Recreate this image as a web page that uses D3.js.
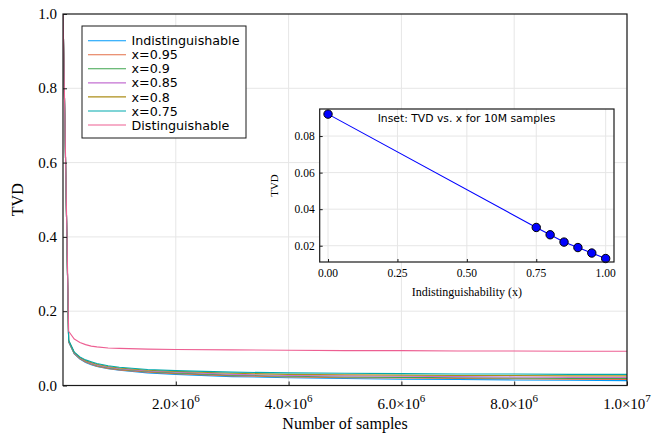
<!DOCTYPE html>
<html>
<head>
<meta charset="utf-8">
<script src="https://cdn.jsdelivr.net/npm/d3@7"></script>
<style>
  html, body { margin: 0; padding: 0; background: #fff; }
  svg { display: block; }
  .serif { font-family: "Liberation Serif", "Times New Roman", serif; fill: #000; }
  .sans { font-family: "DejaVu Sans", sans-serif; fill: #000; }
</style>
</head>
<body>
<svg id="chart" width="655" height="433"></svg>
<script>
// Sample counts at which the TVD was evaluated
const samples = [1e3, 1e5, 2e5, 3e5, 4e5, 5e5, 6e5, 8e5, 1e6, 1.5e6, 2e6, 3e6, 4e6, 5e6, 6e6, 7e6, 8e6, 9e6, 1e7];

const seriesNames = ["Indistinguishable", "x=0.95", "x=0.9", "x=0.85", "x=0.8", "x=0.75", "Distinguishable"];
const seriesColors = ["#009AFA", "#E36F47", "#3EA44E", "#C371D2", "#AC8E18", "#00A9AD", "#ED5F92"];

// TVD per series, one value per entry of `samples`
const tvdIndist = [1.0, 0.117, 0.085, 0.071, 0.062, 0.056, 0.051, 0.045, 0.041, 0.034, 0.030, 0.024, 0.021, 0.019, 0.017, 0.016, 0.015, 0.014, 0.013];
const tvdX095  = [1.0, 0.118, 0.086, 0.072, 0.063, 0.057, 0.052, 0.046, 0.042, 0.036, 0.032, 0.026, 0.023, 0.021, 0.020, 0.019, 0.018, 0.017, 0.016];
const tvdX090  = [1.0, 0.119, 0.087, 0.073, 0.065, 0.059, 0.054, 0.048, 0.044, 0.038, 0.034, 0.028, 0.025, 0.023, 0.022, 0.021, 0.020, 0.019, 0.019];
const tvdX085  = [1.0, 0.120, 0.088, 0.074, 0.066, 0.060, 0.055, 0.049, 0.045, 0.039, 0.036, 0.030, 0.027, 0.026, 0.025, 0.024, 0.023, 0.022, 0.022];
const tvdX080  = [1.0, 0.121, 0.089, 0.075, 0.067, 0.062, 0.057, 0.051, 0.047, 0.041, 0.038, 0.033, 0.030, 0.029, 0.028, 0.027, 0.027, 0.026, 0.026];
const tvdX075  = [1.0, 0.122, 0.090, 0.077, 0.069, 0.064, 0.059, 0.053, 0.049, 0.043, 0.040, 0.036, 0.034, 0.033, 0.032, 0.031, 0.031, 0.030, 0.030];
const tvdDist  = [1.0, 0.146, 0.125, 0.116, 0.110, 0.106, 0.104, 0.101, 0.100, 0.098, 0.097, 0.096, 0.095, 0.094, 0.094, 0.093, 0.093, 0.092, 0.092];

const allSeries = [tvdIndist, tvdX095, tvdX090, tvdX085, tvdX080, tvdX075, tvdDist];

// Indistinguishability of each series (inset x values)
const seriesX = [1.0, 0.95, 0.9, 0.85, 0.8, 0.75, 0.0];

const mainXTicks = [2e6, 4e6, 6e6, 8e6, 1e7];
const mainYTicks = [0.0, 0.2, 0.4, 0.6, 0.8, 1.0];
const insetXTicks = [0.0, 0.25, 0.5, 0.75, 1.0];
const insetYTicks = [0.02, 0.04, 0.06, 0.08];

const svg = d3.select("#chart");
const gridColor = "#e6e6e6";
const frameColor = "#1a1a1a";

// ---------- main panel ----------
const M = { left: 63, right: 627, top: 14, bottom: 385.5 };
const x = d3.scaleLinear().domain([0, 1e7]).range([M.left, M.right]);
const y = d3.scaleLinear().domain([0, 1]).range([M.bottom, M.top]);

const main = svg.append("g");
main.append("rect").attr("x", M.left).attr("y", M.top)
  .attr("width", M.right - M.left).attr("height", M.bottom - M.top).attr("fill", "#fff");

// grid
main.append("g").selectAll("line").data(mainXTicks).join("line")
  .attr("x1", d => x(d)).attr("x2", d => x(d)).attr("y1", M.top).attr("y2", M.bottom)
  .attr("stroke", gridColor).attr("stroke-width", 1);
main.append("g").selectAll("line").data(mainYTicks.filter(d => d > 0 && d < 1)).join("line")
  .attr("x1", M.left).attr("x2", M.right).attr("y1", d => y(d)).attr("y2", d => y(d))
  .attr("stroke", gridColor).attr("stroke-width", 1);

// curves
svg.append("defs").append("clipPath").attr("id", "mainClip")
  .append("rect").attr("x", M.left).attr("y", M.top - 1)
  .attr("width", M.right - M.left).attr("height", M.bottom - M.top + 1);

const line = d3.line().x((d, i) => x(samples[i])).y(d => y(d));
main.append("g").attr("clip-path", "url(#mainClip)")
  .selectAll("path").data(allSeries).join("path")
  .attr("d", d => line(d))
  .attr("fill", "none")
  .attr("stroke", (d, i) => seriesColors[i])
  .attr("stroke-width", 1.1)
  .attr("stroke-linejoin", "round");

// axes (ticks pointing inward)
const xAxis = d3.axisBottom(x).tickValues(mainXTicks).tickSize(-4).tickFormat("");
const yAxis = d3.axisLeft(y).tickValues(mainYTicks).tickSize(-4).tickFormat("");
main.append("g").attr("transform", `translate(0,${M.bottom})`).call(xAxis)
  .call(g => g.select(".domain").remove())
  .call(g => g.selectAll("line").attr("stroke", frameColor));
main.append("g").attr("transform", `translate(${M.left},0)`).call(yAxis)
  .call(g => g.select(".domain").remove())
  .call(g => g.selectAll("line").attr("stroke", frameColor));

main.append("rect").attr("x", M.left).attr("y", M.top)
  .attr("width", M.right - M.left).attr("height", M.bottom - M.top)
  .attr("fill", "none").attr("stroke", frameColor).attr("stroke-width", 1.2);

// tick labels
main.append("g").selectAll("text").data(mainYTicks).join("text")
  .attr("class", "serif").attr("font-size", 15)
  .attr("x", M.left - 6).attr("y", d => y(d) + 5)
  .attr("text-anchor", "end").text(d => d.toFixed(1));

const xl = main.append("g").selectAll("text").data(mainXTicks).join("text")
  .attr("class", "serif").attr("font-size", 15)
  .attr("x", d => x(d)).attr("y", 409).attr("text-anchor", "middle");
xl.each(function (d) {
  const e = Math.floor(Math.log10(d) + 1e-9);
  const m = d / Math.pow(10, e);
  const t = d3.select(this);
  t.append("tspan").text(m.toFixed(1) + "\u00d710");
  t.append("tspan").attr("dy", -7).attr("font-size", 11).text(e);
});

// axis titles
main.append("text").attr("class", "serif").attr("font-size", 16)
  .attr("x", (M.left + M.right) / 2).attr("y", 429).attr("text-anchor", "middle")
  .text("Number of samples");
main.append("text").attr("class", "serif").attr("font-size", 16)
  .attr("transform", `translate(23,${(M.top + M.bottom) / 2}) rotate(-90)`)
  .attr("text-anchor", "middle").text("TVD");

// legend
const L = { x: 82, y: 26, w: 164, h: 112 };
const leg = main.append("g");
leg.append("rect").attr("x", L.x).attr("y", L.y).attr("width", L.w).attr("height", L.h)
  .attr("fill", "#fff").attr("stroke", frameColor).attr("stroke-width", 1);
const rows = leg.selectAll("g").data(seriesNames).join("g")
  .attr("transform", (d, i) => `translate(0,${40.7 + i * 14.05})`);
rows.append("line").attr("x1", 88).attr("x2", 126).attr("y1", 0).attr("y2", 0)
  .attr("stroke", (d, i) => seriesColors[i]).attr("stroke-width", 1.1);
rows.append("text").attr("class", "sans").attr("font-size", 12.7)
  .attr("x", 131.5).attr("y", 4.6).text(d => d);

// ---------- inset: TVD at the largest sample count vs. x ----------
const insetData = seriesX.map((xv, i) => ({ x: xv, tvd: allSeries[i][allSeries[i].length - 1] }))
  .sort((a, b) => a.x - b.x);

const I = { left: 319.7, right: 614, top: 109, bottom: 262 };
const ix = d3.scaleLinear().domain([-0.03, 1.03]).range([I.left, I.right]);
const iy = d3.scaleLinear().domain([0.0111, 0.0948]).range([I.bottom, I.top]);

const inset = svg.append("g");
inset.append("rect").attr("x", I.left).attr("y", I.top)
  .attr("width", I.right - I.left).attr("height", I.bottom - I.top).attr("fill", "#fff");

inset.append("g").selectAll("line").data(insetXTicks).join("line")
  .attr("x1", d => ix(d)).attr("x2", d => ix(d)).attr("y1", I.top).attr("y2", I.bottom)
  .attr("stroke", gridColor);
inset.append("g").selectAll("line").data(insetYTicks).join("line")
  .attr("x1", I.left).attr("x2", I.right).attr("y1", d => iy(d)).attr("y2", d => iy(d))
  .attr("stroke", gridColor);

inset.append("g").attr("transform", `translate(0,${I.bottom})`)
  .call(d3.axisBottom(ix).tickValues(insetXTicks).tickSize(-3).tickFormat(""))
  .call(g => g.select(".domain").remove())
  .call(g => g.selectAll("line").attr("stroke", frameColor));
inset.append("g").attr("transform", `translate(${I.left},0)`)
  .call(d3.axisLeft(iy).tickValues(insetYTicks).tickSize(-3).tickFormat(""))
  .call(g => g.select(".domain").remove())
  .call(g => g.selectAll("line").attr("stroke", frameColor));

inset.append("path").datum(insetData)
  .attr("d", d3.line().x(d => ix(d.x)).y(d => iy(d.tvd)))
  .attr("fill", "none").attr("stroke", "#0000ff").attr("stroke-width", 1.1);
inset.append("g").selectAll("circle").data(insetData).join("circle")
  .attr("cx", d => ix(d.x)).attr("cy", d => iy(d.tvd)).attr("r", 4.2)
  .attr("fill", "#0000ff").attr("stroke", "#000").attr("stroke-width", 1);

inset.append("rect").attr("x", I.left).attr("y", I.top)
  .attr("width", I.right - I.left).attr("height", I.bottom - I.top)
  .attr("fill", "none").attr("stroke", frameColor).attr("stroke-width", 1.2);

inset.append("g").selectAll("text").data(insetYTicks).join("text")
  .attr("class", "serif").attr("font-size", 11.5)
  .attr("x", I.left - 5).attr("y", d => iy(d) + 4).attr("text-anchor", "end")
  .text(d => d.toFixed(2));
inset.append("g").selectAll("text").data(insetXTicks).join("text")
  .attr("class", "serif").attr("font-size", 11.5)
  .attr("x", d => ix(d)).attr("y", 277).attr("text-anchor", "middle")
  .text(d => d.toFixed(2));

inset.append("text").attr("class", "serif").attr("font-size", 12)
  .attr("x", (I.left + I.right) / 2).attr("y", 295.5).attr("text-anchor", "middle")
  .text("Indistinguishability (x)");
inset.append("text").attr("class", "serif").attr("font-size", 11)
  .attr("transform", `translate(278,${(I.top + I.bottom) / 2}) rotate(-90)`)
  .attr("text-anchor", "middle").text("TVD");
inset.append("text").attr("class", "sans").attr("font-size", 10.8)
  .attr("x", 466.5).attr("y", 122).attr("text-anchor", "middle")
  .text("Inset: TVD vs. x for 10M samples");
</script>
</body>
</html>
